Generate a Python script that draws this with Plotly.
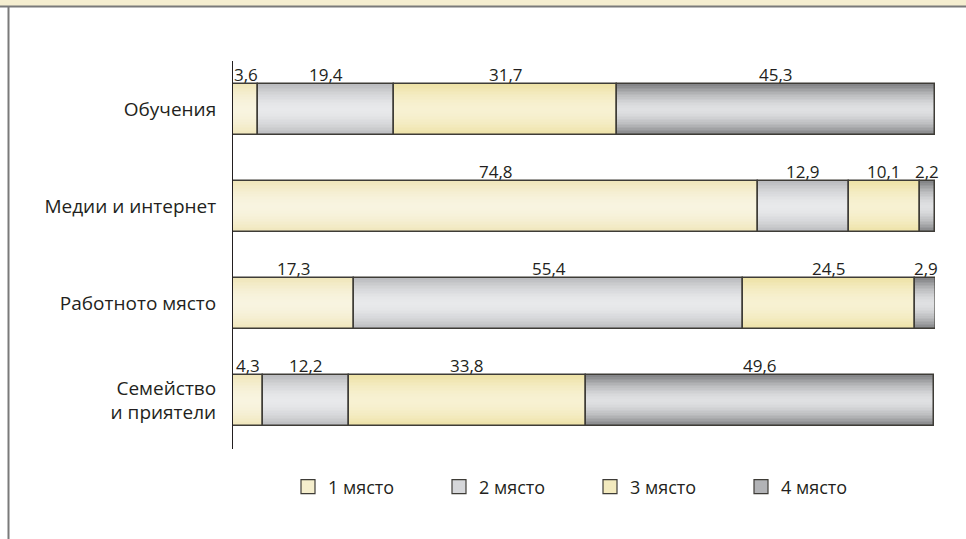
import numpy as np
import plotly.graph_objects as go

categories = ["Обучения", "Медии и интернет", "Работното място", "Семейство<br>и приятели"]
series_names = ["1 място", "2 място", "3 място", "4 място"]
place1 = [3.6, 74.8, 17.3, 4.3]
place2 = [19.4, 12.9, 55.4, 12.2]
place3 = [31.7, 10.1, 24.5, 33.8]
place4 = [45.3, 2.2, 2.9, 49.6]
series_values = [place1, place2, place3, place4]

# style: (edge colour, centre colour) of the vertical gradient
edge_cols = [(240, 230, 186), (186, 187, 190), (238, 226, 166), (128, 129, 132)]
center_cols = [(248, 244, 224), (232, 233, 235), (247, 241, 210), (223, 224, 226)]
legend_cols = [(245, 238, 205), (214, 215, 218), (243, 234, 190), (178, 179, 182)]
OUTLINE = "#3e3c37"
BW = 0.517
N = 16
FONT = "Open Sans"
TXT = "#231f20"


def rgb(c):
    return "rgb(%d,%d,%d)" % tuple(int(round(v)) for v in c)


def mix(e, c, d):
    t = d ** 1.7
    return tuple(c[i] + (e[i] - c[i]) * t for i in range(3))


vals = np.array(series_values)
starts = np.vstack([np.zeros(len(categories)), np.cumsum(vals, axis=0)[:-1]])

fig = go.Figure()

for i, name in enumerate(series_names):
    for k in range(N):
        d = 1 - (k + 0.5) / N
        fig.add_trace(go.Bar(
            y=categories, x=vals[i], base=starts[i], orientation="h",
            width=BW * (1 - k / N),
            marker=dict(color=rgb(mix(edge_cols[i], center_cols[i], d)), line=dict(width=0)),
            showlegend=False, hoverinfo="skip",
        ))

for i, name in enumerate(series_names):
    fig.add_trace(go.Bar(
        y=categories, x=vals[i], base=starts[i], orientation="h", width=BW,
        marker=dict(color="rgba(0,0,0,0)", line=dict(color=OUTLINE, width=1.5)),
        showlegend=False, hoverinfo="skip",
    ))

for i, name in enumerate(series_names):
    fig.add_trace(go.Scatter(
        x=[None], y=[None], mode="markers", name=name,
        marker=dict(symbol="square", size=14, color=rgb(legend_cols[i]),
                    line=dict(color=OUTLINE, width=1.2)),
        showlegend=True, hoverinfo="skip",
    ))

annotations = []
for i in range(len(series_names)):
    for j, cat in enumerate(categories):
        v = vals[i][j]
        annotations.append(dict(
            x=starts[i][j] + v / 2, y=cat, xref="x", yref="y",
            text=("%.1f" % v).replace(".", ","), showarrow=False,
            yanchor="bottom", yshift=22,
            font=dict(family=FONT, size=17, color=TXT),
        ))

# frame decoration (paper coordinates relative to plot area)
L, R, T, B = 233, 31, 61, 90
W, H = 966, 539
pw, ph = W - L - R, H - T - B
px = lambda x: (x - L) / pw
py = lambda y: (H - B - y) / ph

shapes = [
    dict(type="rect", xref="paper", yref="paper", x0=px(-2), x1=px(W + 2), y0=py(6), y1=py(-2),
         fillcolor="#f5eed0", line=dict(width=0), layer="above"),
    dict(type="line", xref="paper", yref="paper", x0=px(0), x1=px(W), y0=py(6.5), y1=py(6.5),
         line=dict(color="#7a7a7a", width=2)),
    dict(type="line", xref="paper", yref="paper", x0=px(8.5), x1=px(8.5), y0=py(7), y1=py(H + 2),
         line=dict(color="#7a7a7a", width=2)),
]

fig.update_layout(
    width=W, height=H,
    margin=dict(l=L, r=R, t=T, b=B),
    paper_bgcolor="white", plot_bgcolor="white",
    barmode="overlay",
    bargap=0,
    font=dict(family=FONT, size=16, color=TXT),
    xaxis=dict(range=[0, 100], visible=False, fixedrange=True),
    yaxis=dict(
        categoryorder="array", categoryarray=categories, range=[3.5, -0.5],
        showline=True, linecolor="#231f20", linewidth=1, ticks="",
        ticklabelstandoff=12, showgrid=False, zeroline=False,
        tickfont=dict(family=FONT, size=19, color=TXT),
    ),
    legend=dict(
        orientation="h", x=px(288), y=py(487), xanchor="left", yanchor="middle",
        entrywidth=106, entrywidthmode="pixels", traceorder="normal",
        font=dict(family=FONT, size=18, color=TXT), bgcolor="rgba(0,0,0,0)",
    ),
    annotations=annotations,
    shapes=shapes,
)

fig.write_html(
    "out.html",
    config={"displayModeBar": False},
    post_script="document.body.style.margin='0';document.body.style.overflow='hidden';",
)
